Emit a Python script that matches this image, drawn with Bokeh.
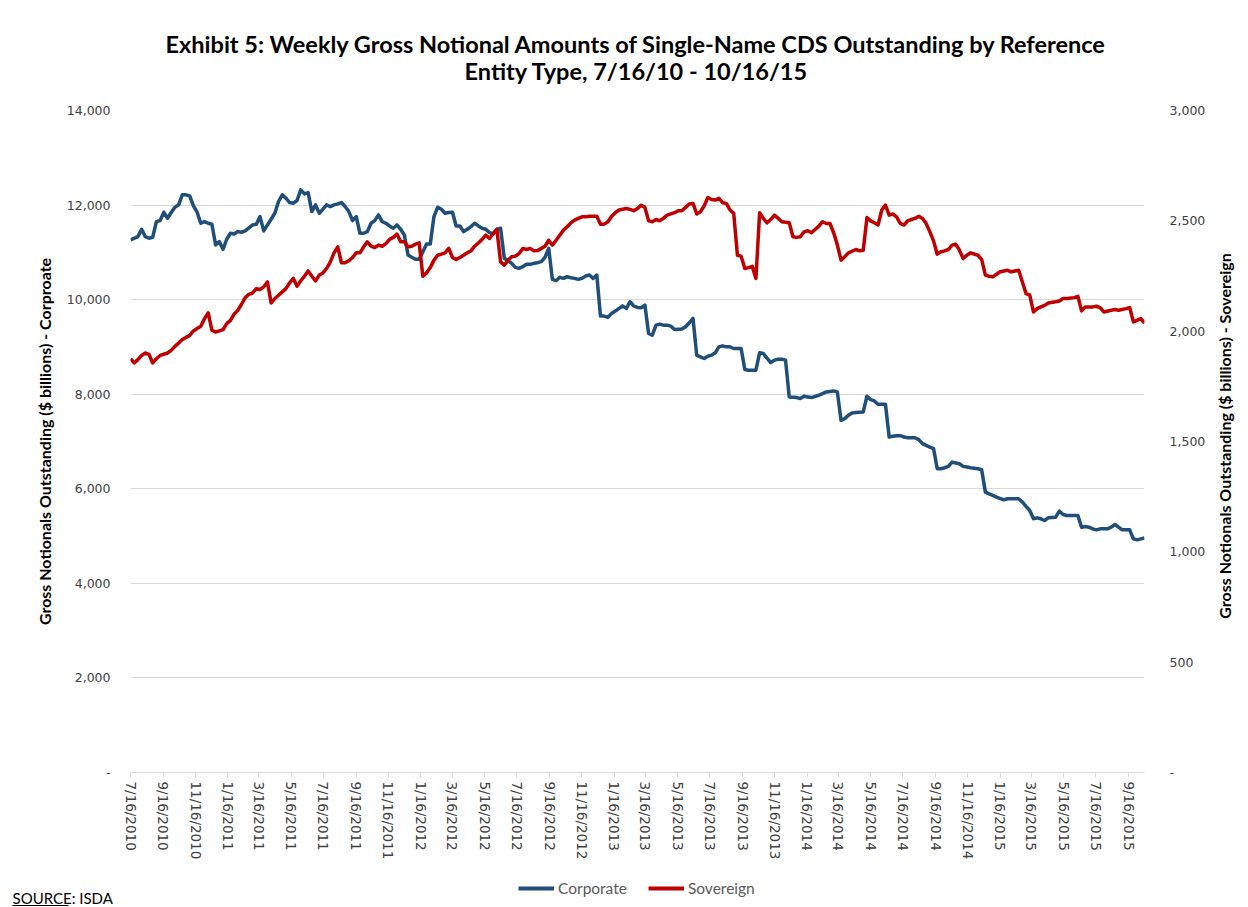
import math
import pandas as pd
from bokeh.plotting import figure
from bokeh.layouts import column, row
from bokeh.models import (Range1d, LinearAxis, FixedTicker, NumeralTickFormatter,
                          Legend, LegendItem)
from bokeh.core.properties import value
from bokeh.embed import file_html
from bokeh.resources import INLINE

# ---------------- data ----------------
title_line1 = "Exhibit 5: Weekly Gross Notional Amounts of Single-Name CDS Outstanding by Reference"
title_line2 = "Entity Type, 7/16/10 - 10/16/15"
left_axis_title = "Gross Notionals Outstanding ($ billions) - Corproate"
right_axis_title = "Gross Notionals Outstanding ($ billions) - Sovereign"
source_text = "SOURCE: ISDA"
series_names = ["Corporate", "Sovereign"]

start_date = "7/16/2010"
x_tick_labels = ["7/16/2010", "9/16/2010", "11/16/2010",
                 "1/16/2011", "3/16/2011", "5/16/2011", "7/16/2011", "9/16/2011", "11/16/2011",
                 "1/16/2012", "3/16/2012", "5/16/2012", "7/16/2012", "9/16/2012", "11/16/2012",
                 "1/16/2013", "3/16/2013", "5/16/2013", "7/16/2013", "9/16/2013", "11/16/2013",
                 "1/16/2014", "3/16/2014", "5/16/2014", "7/16/2014", "9/16/2014", "11/16/2014",
                 "1/16/2015", "3/16/2015", "5/16/2015", "7/16/2015", "9/16/2015"]
left_ticks = [0, 2000, 4000, 6000, 8000, 10000, 12000, 14000]
right_ticks = [0, 500, 1000, 1500, 2000, 2500, 3000]

# weeks since 7/16/2010 and values ($ billions)
corp_week = [0, 2, 3, 4, 5, 6, 7, 8, 9, 10, 11, 12, 13, 14, 15, 16, 17, 18, 19, 20,
             21, 22, 23, 24, 25, 26, 27, 28, 29, 30, 31, 33, 34, 35, 36, 37, 38, 39, 40, 41,
             42, 43, 44, 45, 46, 47, 48, 49, 50, 51, 52, 53, 54, 55, 56, 57, 58, 59, 60, 61,
             62, 63, 64, 65, 66, 67, 68, 69, 70, 71, 72, 73, 74, 75, 76, 77, 78, 79, 80, 81,
             82, 83, 84, 85, 86, 87, 88, 89, 90, 91, 92, 93, 94, 95, 96, 97, 98, 99, 100, 101,
             102, 103, 104, 105, 106, 107, 108, 109, 110, 111, 112, 113, 114, 115, 116, 117, 118, 119, 120, 121,
             122, 123, 124, 125, 126, 127, 128, 129, 130, 131, 132, 133, 134, 135, 136, 137, 138, 139, 140, 141,
             142, 143, 144, 145, 146, 147, 149, 150, 151, 152, 153, 154, 155, 156, 157, 158, 159, 160, 161, 162,
             163, 165, 166, 167, 169, 170, 171, 173, 174, 175, 176, 177, 178, 180, 181, 182, 183, 184, 186, 187,
             188, 190, 191, 192, 193, 194, 195, 196, 198, 199, 200, 201, 202, 203, 204, 205, 206, 207, 208, 209,
             210, 212, 213, 214, 216, 217, 218, 219, 220, 221, 222, 223, 224, 225, 226, 227, 229, 230, 231, 232,
             233, 234, 236, 237, 238, 240, 241, 242, 243, 244, 245, 246, 247, 248, 250, 251, 252, 253, 255, 256,
             257, 258, 259, 260, 261, 262, 264, 265, 266, 267, 268, 270, 271, 272, 273, 274]
corp_value = [11263, 11333, 11489, 11333, 11298, 11319, 11651, 11672, 11849, 11722, 11842, 11955, 12004, 12216, 12216, 12195, 11983, 11849, 11616, 11651,
              11616, 11595, 11157, 11227, 11065, 11277, 11404, 11390, 11439, 11425, 11453, 11580, 11595, 11757, 11453, 11580, 11700, 11828, 12075, 12216,
              12145, 12054, 12040, 12096, 12322, 12237, 12265, 11863, 12004, 11828, 11912, 12004, 11969, 12004, 12025, 12054, 11969, 11863, 11672, 11757,
              11404, 11404, 11439, 11616, 11672, 11792, 11651, 11616, 11559, 11510, 11580, 11489, 11368, 10945, 10895, 10853, 10853, 11015, 11178, 11178,
              11757, 11955, 11912, 11828, 11842, 11849, 11559, 11559, 11439, 11489, 11545, 11616, 11559, 11510, 11489, 11418, 11390, 11489, 11510, 10874,
              10824, 10768, 10683, 10662, 10697, 10747, 10747, 10768, 10782, 10803, 10895, 11086, 10429, 10401, 10472, 10450, 10485, 10464, 10450, 10429,
              10450, 10500, 10521, 10450, 10521, 9652, 9652, 9624, 9709, 9758, 9815, 9864, 9815, 9956, 9864, 9836, 9829, 9885, 9285, 9249,
              9461, 9483, 9461, 9461, 9440, 9370, 9377, 9426, 9511, 9603, 8826, 8790, 8755, 8804, 8826, 8875, 9002, 9023, 9002, 9002,
              8967, 8967, 8522, 8508, 8508, 8875, 8861, 8670, 8720, 8741, 8741, 8720, 7943, 7929, 7908, 7957, 7943, 7929, 7978, 8013,
              8049, 8070, 8049, 7448, 7484, 7554, 7604, 7611, 7625, 7957, 7886, 7858, 7787, 7787, 7787, 7095, 7109, 7123, 7123, 7095,
              7081, 7081, 7039, 6954, 6883, 6848, 6424, 6424, 6445, 6474, 6565, 6544, 6530, 6474, 6459, 6445, 6424, 6403, 5930, 5894,
              5859, 5824, 5767, 5788, 5788, 5788, 5718, 5626, 5541, 5365, 5386, 5365, 5329, 5386, 5400, 5527, 5456, 5435, 5435, 5435,
              5188, 5202, 5188, 5153, 5132, 5153, 5153, 5188, 5245, 5188, 5132, 5132, 4941, 4920, 4941, 4962]

sov_week = [0, 1, 2, 3, 4, 5, 6, 7, 8, 10, 11, 12, 13, 14, 16, 17, 18, 19, 20, 21,
            22, 23, 24, 25, 26, 27, 28, 29, 30, 31, 32, 33, 34, 35, 36, 37, 38, 39, 40, 41,
            42, 43, 44, 45, 46, 47, 48, 49, 50, 51, 52, 53, 54, 55, 56, 57, 58, 59, 60, 61,
            62, 63, 64, 65, 66, 67, 68, 69, 70, 71, 72, 73, 74, 75, 76, 77, 78, 79, 80, 81,
            82, 83, 84, 85, 86, 87, 88, 89, 90, 91, 92, 93, 94, 95, 96, 97, 98, 99, 100, 101,
            102, 103, 104, 105, 106, 107, 108, 109, 110, 112, 113, 114, 115, 116, 117, 118, 119, 120, 121, 122,
            123, 124, 125, 126, 127, 128, 129, 130, 131, 132, 134, 135, 136, 137, 138, 139, 140, 141, 142, 143,
            144, 145, 147, 148, 149, 150, 151, 152, 153, 154, 155, 156, 157, 158, 159, 160, 161, 162, 163, 164,
            165, 166, 167, 168, 169, 170, 171, 172, 173, 174, 175, 176, 178, 179, 180, 181, 182, 183, 184, 185,
            186, 187, 188, 189, 190, 191, 192, 193, 194, 196, 197, 198, 199, 200, 201, 202, 203, 204, 205, 206,
            207, 208, 209, 210, 211, 212, 213, 214, 215, 216, 217, 218, 219, 220, 221, 222, 223, 224, 225, 226,
            227, 229, 230, 231, 232, 233, 234, 235, 237, 238, 239, 240, 241, 242, 243, 244, 245, 246, 247, 248,
            250, 251, 252, 253, 255, 256, 257, 258, 259, 260, 261, 262, 263, 265, 266, 267, 269, 270, 271, 272,
            273, 274]
sov_value = [1875, 1856, 1871, 1890, 1901, 1895, 1856, 1875, 1890, 1901, 1913, 1931, 1946, 1962, 1981, 2001, 2012, 2022, 2057, 2083,
             2004, 1996, 2001, 2007, 2034, 2049, 2077, 2095, 2122, 2152, 2167, 2173, 2193, 2189, 2201, 2223, 2128, 2148, 2163, 2178,
             2193, 2219, 2239, 2204, 2228, 2249, 2273, 2249, 2228, 2254, 2264, 2284, 2314, 2355, 2382, 2310, 2310, 2319, 2334, 2355,
             2355, 2382, 2405, 2385, 2379, 2390, 2385, 2397, 2416, 2425, 2440, 2405, 2405, 2382, 2385, 2394, 2400, 2249, 2264, 2288,
             2322, 2344, 2349, 2355, 2375, 2334, 2325, 2334, 2344, 2355, 2364, 2385, 2400, 2416, 2435, 2420, 2443, 2461, 2314, 2299,
             2322, 2337, 2340, 2352, 2375, 2370, 2375, 2364, 2365, 2385, 2412, 2390, 2412, 2435, 2458, 2473, 2491, 2503, 2511, 2518,
             2518, 2521, 2521, 2521, 2485, 2485, 2496, 2521, 2537, 2549, 2556, 2552, 2546, 2556, 2571, 2561, 2500, 2496, 2506, 2500,
             2511, 2526, 2537, 2546, 2546, 2561, 2576, 2579, 2531, 2541, 2567, 2606, 2597, 2594, 2602, 2582, 2579, 2549, 2534, 2344,
             2340, 2284, 2288, 2294, 2239, 2537, 2511, 2491, 2506, 2526, 2511, 2496, 2491, 2428, 2425, 2428, 2450, 2455, 2446, 2461,
             2476, 2496, 2488, 2488, 2446, 2390, 2322, 2337, 2355, 2370, 2364, 2367, 2515, 2500, 2491, 2481, 2549, 2571, 2526, 2531,
             2518, 2488, 2481, 2500, 2506, 2511, 2521, 2511, 2488, 2450, 2409, 2349, 2360, 2364, 2370, 2390, 2394, 2367, 2329, 2344,
             2355, 2344, 2325, 2254, 2249, 2246, 2258, 2269, 2276, 2269, 2273, 2276, 2223, 2170, 2163, 2087, 2102, 2110, 2117, 2128,
             2133, 2137, 2148, 2148, 2152, 2158, 2092, 2110, 2110, 2110, 2113, 2107, 2087, 2095, 2098, 2095, 2102, 2107, 2042, 2049,
             2057, 2037]

# ---------------- derived ----------------
start = pd.to_datetime(start_date, format="%m/%d/%Y")
tick_days = [int((pd.to_datetime(t, format="%m/%d/%Y") - start).days) for t in x_tick_labels]
corp_x = [w * 7 for w in corp_week]
sov_x = [w * 7 for w in sov_week]
x_end = max(corp_x[-1], sov_x[-1])

BLUE = "#1F4E79"
RED = "#C00000"
GRID = "#d9d9d9"
TICK_FONT = "DejaVu Sans"
TXT_FONT = "Lato"
AXIS_TITLE_SIZE = "16px"

TOTAL_W = 1248
TITLE_H = 100
MAIN_H = 775
BOTTOM_H = 907 - TITLE_H - MAIN_H
RIGHT_W = 40
MAIN_W = TOTAL_W - RIGHT_W


def blank(width, height):
    f = figure(width=width, height=height, output_backend="svg", toolbar_location=None,
               x_range=Range1d(0, width), y_range=Range1d(height, 0),
               x_axis_location=None, y_axis_location=None,
               min_border=0, min_border_left=0, min_border_right=0,
               min_border_top=0, min_border_bottom=0)
    f.outline_line_color = None
    f.xgrid.visible = False
    f.ygrid.visible = False
    f.background_fill_color = "white"
    f.border_fill_color = "white"
    return f


# ---------------- title strip ----------------
p_title = blank(TOTAL_W, TITLE_H)
p_title.text(x=[636, 636], y=[43, 70], text=[title_line1, title_line2],
             text_align="center", text_baseline="middle",
             text_font=value(TXT_FONT), text_font_style="bold",
             text_font_size=value("23.5px"), text_color="black")

# ---------------- main plot ----------------
p = figure(width=MAIN_W, height=MAIN_H,
           output_backend="svg", toolbar_location=None,
           x_range=Range1d(0, x_end), y_range=Range1d(left_ticks[0], left_ticks[-1]),
           min_border_left=130, min_border_right=60, min_border_top=10, min_border_bottom=103)
p.extra_y_ranges = {"sov": Range1d(right_ticks[0], right_ticks[-1])}
p.outline_line_color = None
p.background_fill_color = "white"
p.border_fill_color = "white"

r_corp = p.line(corp_x, corp_value, line_color=BLUE, line_width=3.5, line_join="round")
r_sov = p.line(sov_x, sov_value, line_color=RED, line_width=3.5, line_join="round",
               y_range_name="sov")

xa = p.xaxis[0]
xa.ticker = FixedTicker(ticks=tick_days)
xa.major_label_overrides = {d: lab for d, lab in zip(tick_days, x_tick_labels)}
xa.major_label_orientation = -math.pi / 2
xa.axis_line_color = GRID
xa.major_tick_line_color = GRID
xa.major_tick_in = 0
xa.major_tick_out = 5
xa.minor_tick_line_color = None
xa.major_label_standoff = 4
xa.major_label_text_font = TICK_FONT
xa.major_label_text_font_size = "13.5px"
xa.major_label_text_color = "#404040"

ya = p.yaxis[0]
ya.ticker = FixedTicker(ticks=left_ticks)
ya.formatter = NumeralTickFormatter(format="0,0")
ya.major_label_overrides = {0: "-"}
ya.axis_line_color = None
ya.major_tick_line_color = None
ya.minor_tick_line_color = None
ya.major_label_standoff = 14
ya.major_label_text_font = TICK_FONT
ya.major_label_text_font_size = "12.5px"
ya.major_label_text_color = "#404040"
ya.axis_label = left_axis_title
ya.axis_label_text_font = TXT_FONT
ya.axis_label_text_font_style = "bold"
ya.axis_label_text_font_size = AXIS_TITLE_SIZE
ya.axis_label_text_color = "black"
ya.axis_label_standoff = 10

ra = LinearAxis(y_range_name="sov", ticker=FixedTicker(ticks=right_ticks),
                formatter=NumeralTickFormatter(format="0,0"))
ra.major_label_overrides = {0: "-"}
ra.axis_line_color = None
ra.major_tick_line_color = None
ra.minor_tick_line_color = None
ra.major_label_standoff = 19
ra.major_label_text_font = TICK_FONT
ra.major_label_text_font_size = "12.5px"
ra.major_label_text_color = "#404040"
p.add_layout(ra, "right")

p.xgrid.visible = False
p.ygrid.ticker = FixedTicker(ticks=left_ticks)
p.ygrid.grid_line_color = GRID
p.ygrid.grid_line_width = 1

# ---------------- right axis title strip ----------------
p_right = blank(RIGHT_W, MAIN_H)
p_right.text(x=[16], y=[381], text=[right_axis_title], angle=math.pi / 2,
             text_align="center", text_baseline="middle",
             text_font=value(TXT_FONT), text_font_style="bold",
             text_font_size=value(AXIS_TITLE_SIZE), text_color="black")

# ---------------- bottom strip: legend + source ----------------
p_bottom = blank(TOTAL_W, BOTTOM_H)
nan = float("nan")
lg_corp = p_bottom.line(x=[nan], y=[nan], line_color=BLUE, line_width=4)
lg_sov = p_bottom.line(x=[nan], y=[nan], line_color=RED, line_width=4)
legend = Legend(items=[LegendItem(label=series_names[0], renderers=[lg_corp]),
                       LegendItem(label=series_names[1], renderers=[lg_sov])],
                orientation="horizontal", location=(518, 10),
                border_line_color=None, background_fill_alpha=0,
                label_text_font=TXT_FONT, label_text_font_size="15.5px",
                label_text_color="#595959", glyph_width=36, glyph_height=14,
                label_height=16, label_standoff=4, spacing=21, padding=0, margin=0)
p_bottom.add_layout(legend, "center")
p_bottom.text(x=[12], y=[22], text=[source_text], text_align="left", text_baseline="middle",
              text_font=value(TXT_FONT), text_font_size=value("15px"), text_color="black")
p_bottom.segment(x0=[12], y0=[30], x1=[68], y1=[30], line_color="black", line_width=1)

layout = column(p_title, row(p, p_right, spacing=0), p_bottom, spacing=0)
open("out.html", "w").write(file_html(layout, INLINE))
